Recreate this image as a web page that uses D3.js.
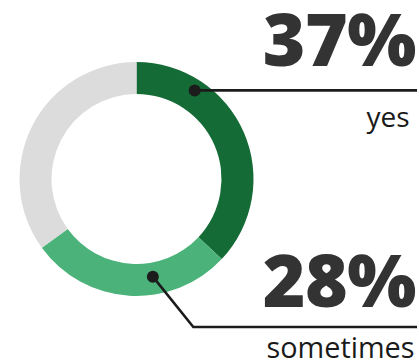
<!DOCTYPE html>
<html>
<head>
<meta charset="utf-8">
<script src="https://cdn.jsdelivr.net/npm/d3@7"></script>
<style>
  html, body { margin: 0; padding: 0; background: #fff; }
  svg { display: block; }
</style>
</head>
<body>
<svg id="chart" width="419" height="361"></svg>
<script>
// Survey answers shown as a donut, starting at 12 o'clock and running clockwise
const categories = ["yes", "sometimes", "no"];
const values = [37, 28, 35];
const valueLabels = ["37%", "28%", null];
const colors = ["#156b36", "#4bb37a", "#dcdcdc"];

const svg = d3.select("#chart");
const cx = 136.5, cy = 179;
const outerR = 117, innerR = 85;

const pie = d3.pie().sort(null).value(d => d.value);
const slices = pie(categories.map((c, i) => ({ category: c, value: values[i], color: colors[i], label: valueLabels[i] })));

const arc = d3.arc().innerRadius(innerR).outerRadius(outerR);

const g = svg.append("g").attr("transform", `translate(${cx},${cy})`);
g.selectAll("path.slice")
  .data(slices)
  .enter().append("path")
  .attr("class", "slice")
  .attr("d", arc)
  .attr("fill", d => d.data.color);

// Callout layout: where on each slice the dot sits, and how the leader runs to the label
const callouts = [
  { frac: 0.25, radius: 106, elbow: null, lineY: null, lineEnd: 417, numY: 66, catY: 126.5, catX: 409.5, catSize: 28 },
  { frac: 0.37, radius: 99, elbow: [193.3, 327], lineY: 327, lineEnd: 417, numY: 306.5, catY: 358, catX: 414.5, catSize: 28.8 }
];

const ink = "#1c1c1c";
callouts.forEach((c, i) => {
  const s = slices[i];
  const a = s.startAngle + (s.endAngle - s.startAngle) * c.frac;
  const pt = d3.pointRadial(a, c.radius);
  const px = cx + pt[0], py = cy + pt[1];

  const pts = [[px, py]];
  if (c.elbow) { pts.push(c.elbow); pts.push([c.lineEnd, c.lineY]); }
  else { pts.push([c.lineEnd, py]); }

  svg.append("path")
    .attr("d", d3.line()(pts))
    .attr("fill", "none")
    .attr("stroke", ink)
    .attr("stroke-width", 2.6);

  svg.append("circle")
    .attr("cx", px).attr("cy", py).attr("r", 6)
    .attr("fill", ink);

  svg.append("text")
    .attr("x", 416).attr("y", c.numY)
    .attr("text-anchor", "end")
    .attr("font-family", "'Open Sans', sans-serif")
    .attr("font-weight", 800)
    .attr("font-size", 73)
    .attr("letter-spacing", -0.5)
    .attr("fill", "#333333")
    .text(s.data.label);

  svg.append("text")
    .attr("x", c.catX).attr("y", c.catY)
    .attr("text-anchor", "end")
    .attr("font-family", "'Open Sans', sans-serif")
    .attr("font-size", c.catSize)
    .attr("fill", "#1a1a1a")
    .text(s.data.category);
});
</script>
</body>
</html>
